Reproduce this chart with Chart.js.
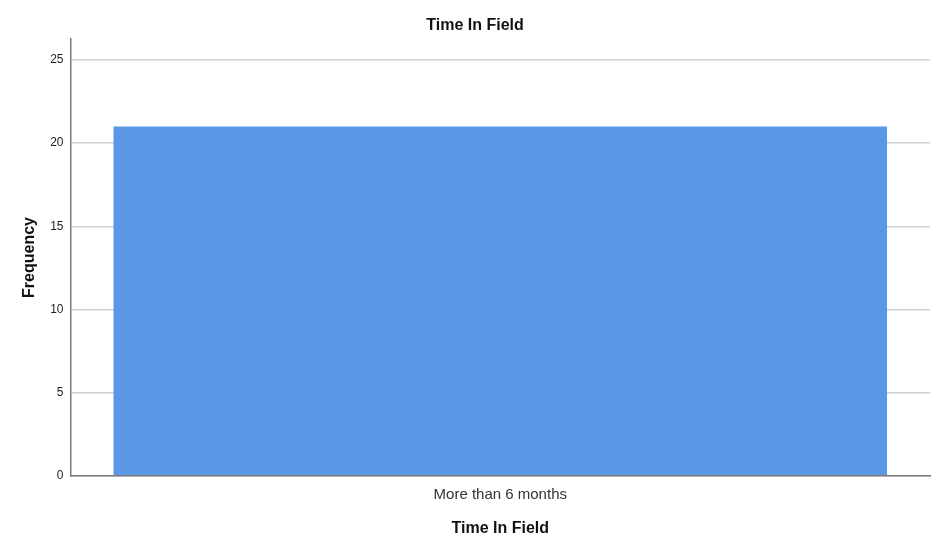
<!DOCTYPE html>
<html>
<head>
<meta charset="utf-8">
<script src="https://cdn.jsdelivr.net/npm/chart.js@4/dist/chart.umd.min.js"></script>
<style>
  body { margin: 0; background: #fff; }
  #wrap { width: 941px; height: 553px; }
</style>
</head>
<body>
<div id="wrap"><canvas id="timeChart" width="941" height="553"></canvas></div>
<script>
// chart data
var categories = ["More than 6 months"];
var frequency = [21];
var yTicks = [0, 5, 10, 15, 20, 25];

var ctx = document.getElementById('timeChart').getContext('2d');

var timeChart = new Chart(ctx, {
  type: 'bar',
  data: {
    labels: categories,
    datasets: [{
      label: 'Frequency',
      data: frequency,
      backgroundColor: '#5a97e4',
      borderWidth: 0,
      barPercentage: 0.9,
      categoryPercentage: 1.0
    }]
  },
  options: {
    responsive: false,
    animation: false,
    layout: { padding: { left: 20, right: 11, top: 0, bottom: 15 } },
    scales: {
      x: {
        grid: { display: false, drawTicks: false },
        border: { color: '#7a7a7a', width: 1.5 },
        ticks: { color: '#333', font: { family: 'Liberation Sans, Arial', size: 15 }, padding: 10 },
        title: {
          display: true,
          text: 'Time In Field',
          color: '#111',
          font: { family: 'Liberation Sans, Arial', size: 16, weight: 'bold' },
          padding: { top: 5, bottom: 0 }
        }
      },
      y: {
        min: 0,
        max: 26.25,
        afterBuildTicks: function (scale) {
          scale.ticks = yTicks.map(function (v) { return { value: v }; });
        },
        grid: { color: '#cfcfcf', lineWidth: 1.5, drawTicks: false },
        border: { color: '#7a7a7a', width: 1.5 },
        ticks: { color: '#222', font: { family: 'Liberation Sans, Arial', size: 12 }, padding: 7 },
        title: {
          display: true,
          text: 'Frequency',
          color: '#111',
          font: { family: 'Liberation Sans, Arial', size: 16, weight: 'bold' },
          padding: { top: 0, bottom: 4 }
        }
      }
    },
    plugins: {
      legend: { display: false },
      tooltip: { enabled: false },
      title: {
        display: true,
        text: 'Time In Field',
        color: '#111',
        font: { family: 'Liberation Sans, Arial', size: 16, weight: 'bold' },
        padding: { top: 16, bottom: 4 }
      }
    }
  }
});
</script>
</body>
</html>
